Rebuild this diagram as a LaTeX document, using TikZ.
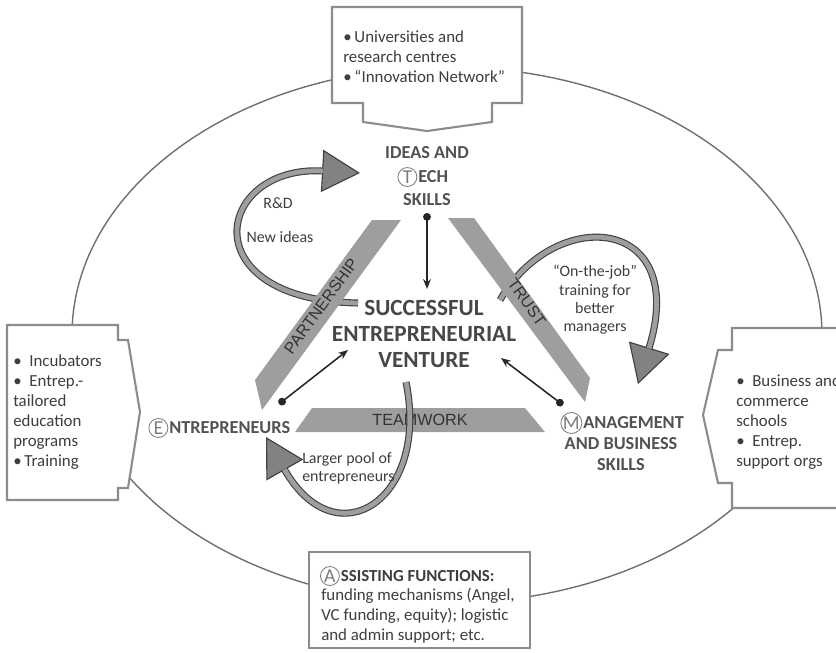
\documentclass[tikz,border=0pt]{standalone}
\usepackage{fontspec}
\setmainfont{Carlito}
\newfontfamily\bandfont{Liberation Sans}
\usetikzlibrary{arrows.meta,positioning,calc}

\definecolor{inkgray}{RGB}{62,62,62}
\definecolor{labelgray}{RGB}{82,82,82}
\definecolor{bandgray}{RGB}{158,158,158}
\definecolor{edgegray}{RGB}{140,140,140}
\definecolor{ringgray}{RGB}{112,112,112}
\definecolor{headgray}{RGB}{130,130,130}

\begin{document}
\begin{tikzpicture}[
    x=0.025cm, y=-0.025cm,
    boxframe/.style={draw=edgegray, line width=1.5pt, fill=white},
    boxtext/.style={
        font=\fontsize{12}{14.2}\selectfont,
        text=inkgray,
        align=left,
        inner sep=0pt
    },
    corner/.style={
        font=\bfseries\fontsize{13}{15.5}\selectfont,
        text=labelgray,
        align=center,
        inner sep=0pt
    },
    ringletter/.style={
        circle, draw=labelgray!75, line width=0.6pt,
        inner sep=0pt, minimum size=13.5pt,
        font=\fontsize{14}{14}\selectfont, text=labelgray!75
    },
    band/.style={fill=bandgray},
    bandtext/.style={font=\bandfont\fontsize{11.5}{12}\selectfont, text=black!80, inner sep=0pt},
    note/.style={font=\fontsize{11.3}{13}\selectfont, text=inkgray, align=center, inner sep=0pt},
    pointer/.style={{Circle[length=5.5pt]}-{Stealth[length=7pt,width=5.5pt]}, line width=1.1pt, black!85},
    fathead/.style={draw=black!75, line width=0.8pt, -{Triangle[length=27pt,width=30pt,fill=headgray]}},
    fatline/.style={draw=black!75, line width=0.8pt, double=bandgray, double distance=3.4pt, shorten >=26.5pt}
]
\useasboundingbox (0,0) rectangle (836,652);

% outer ring and the four surrounding boxes
\draw[ringgray, line width=1pt] (447,335) ellipse [x radius=375, y radius=268];

\draw[boxframe] (332,7) -- (522,7) -- (522,103) -- (492,103) -- (492,122) -- (427,131)
    -- (363,122) -- (363,103) -- (332,103) -- cycle;
\draw[boxframe] (7,325) -- (118,325) -- (118,340) -- (128,340) -- (140,412) -- (128,488)
    -- (118,488) -- (118,500) -- (7,500) -- cycle;
\draw[boxframe] (850,328) -- (732,328) -- (732,350) -- (718,350) -- (703,415) -- (718,483)
    -- (732,483) -- (732,508) -- (850,508);
\draw[boxframe] (309,552) rectangle (530,648);

\node[boxtext, anchor=west] (unis) at (343,57)
    {\textbullet\,Universities and\\research centres\\\textbullet\,“Innovation Network”};
\node[boxtext, anchor=west] (incub) at (13,412)
    {\textbullet\ \ Incubators\\\textbullet\ \ Entrep.-\\tailored\\education\\programs\\\textbullet\,Training};
\node[boxtext, anchor=west] (schools) at (736,422)
    {\textbullet\ \ Business and\\commerce\\schools\\\textbullet\ \ Entrep.\\support orgs};
\node[ringletter, anchor=west] (a) at (320,576) {A};
\node[boxtext, font=\bfseries\fontsize{12}{14.2}\selectfont, right=0.5pt of a] (assist) {SSISTING FUNCTIONS:};
\node[boxtext, anchor=north west] (funding) at (321,588)
    {funding mechanisms (Angel,\\VC funding, equity); logistic\\and admin support; etc.};

% curved feedback arrows that pass under the bands
\coordinate (rdtail) at (358,303);
\coordinate (rdtip) at (360,173);
\draw[fathead] (rdtail) .. controls (190,300) and (215,165) .. (rdtip);
\draw[fatline] (rdtail) .. controls (190,300) and (215,165) .. (rdtip);

\coordinate (jobtail) at (500,300);
\coordinate (jobtip) at (638,384);
\draw[fathead] (jobtail) .. controls (555,205) and (690,215) .. (jobtip);
\draw[fatline] (jobtail) .. controls (555,205) and (690,215) .. (jobtip);

% the three bands
\fill[band] (372,220) -- (401,220) -- (262,410) -- (255,380) -- cycle;
\fill[band] (448,218) -- (474,218) -- (590,378) -- (585,402) -- cycle;
\fill[band] (312,408) -- (525,408) -- (545,432) -- (295,432) -- cycle;
\node[bandtext, rotate=54] (partner) at (321,306) {PARTNERSHIP};
\node[bandtext, rotate=-55] (trust) at (527,302) {TRUST};
\node[bandtext] (team) at (420,420) {TEAMWORK};

% this one crosses over the teamwork band
\coordinate (pooltail) at (406,382);
\coordinate (pooltip) at (266,437);
\draw[fathead] (pooltail) .. controls (430,500) and (336,560) .. (pooltip);
\draw[fatline] (pooltail) .. controls (430,500) and (336,560) .. (pooltip);

% corner labels
\node[corner] (ideas) at (427,153) {IDEAS AND};
\node[corner, anchor=west] (ech) at (418,177) {ECH};
\node[ringletter, left=0.5pt of ech] (t) {T};
\node[corner] (skills) at (427,200) {SKILLS};

\node[corner, anchor=west] (ntre) at (169,428) {NTREPRENEURS};
\node[ringletter, left=0.5pt of ntre] (e) {E};

\node[corner, anchor=west] (anag) at (583,423) {ANAGEMENT};
\node[ringletter, left=0.5pt of anag] (m) {M};
\node[corner] (business) at (621,454) {AND BUSINESS\\SKILLS};

\node[corner, font=\bfseries\fontsize{16.5}{18.5}\selectfont, text=black!72] (venture) at (424,334)
    {SUCCESSFUL\\ENTREPRENEURIAL\\VENTURE};

% notes beside the loops
\node[note] (rd) at (278,203) {R\&D};
\node[note] (newideas) at (280,237) {New ideas};
\node[note] (onjob) at (595,300) {“On-the-job”\\training for\\better\\managers};
\node[note, align=left, anchor=west] (pool) at (302,468) {Larger pool of\\entrepreneurs};

% straight arrows into the venture
\coordinate (dott) at (427,213);
\coordinate (tipt) at (427,289);
\coordinate (dote) at (279,404);
\coordinate (tipe) at (348,350);
\coordinate (dotm) at (563,405);
\coordinate (tipm) at (501,358);
\draw[pointer] (dott) -- (tipt);
\draw[pointer] (dote) -- (tipe);
\draw[pointer] (dotm) -- (tipm);
\end{tikzpicture}
\end{document}
